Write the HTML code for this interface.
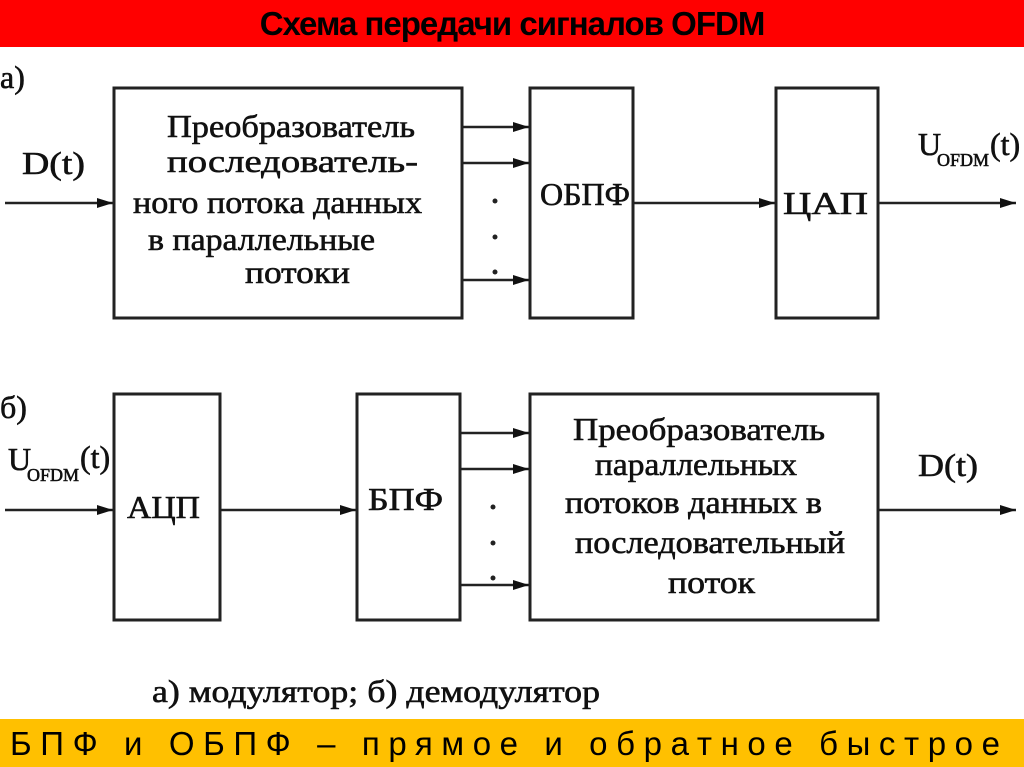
<!DOCTYPE html>
<html><head><meta charset="utf-8"><style>
body{margin:0;width:1024px;height:767px;overflow:hidden;background:#fff;position:relative}
.top{position:absolute;left:0;top:0;width:1024px;height:47px;background:#ff0000;text-align:center;font:bold 33px/47px "Liberation Sans",sans-serif;color:#000;letter-spacing:-1px}
.bot{position:absolute;left:0;top:719px;width:1024px;height:48px;background:#ffc000}
svg{position:absolute;left:0;top:0}
text{font-family:"Liberation Serif",serif;fill:#111;stroke:#111;stroke-width:0.6}
</style></head><body>
<div class="top">Схема передачи сигналов OFDM</div>
<div class="bot"></div>
<svg width="1024" height="767">
<defs><marker id="a" markerWidth="16" markerHeight="10" refX="16" refY="5" orient="auto" markerUnits="userSpaceOnUse"><path d="M0,0L16,5L0,10z" fill="#111"/></marker></defs>
<g stroke="#222" stroke-width="3" fill="none">
<rect x="114" y="88" width="348" height="230"/>
<rect x="530" y="88" width="103" height="230"/>
<rect x="776" y="88" width="102" height="230"/>
<rect x="114" y="394" width="106" height="226"/>
<rect x="357" y="394" width="103" height="226"/>
<rect x="530" y="394" width="348" height="226"/>
</g>
<g stroke="#222" stroke-width="2.5" marker-end="url(#a)">
<line x1="5" y1="203" x2="113" y2="203"/>
<line x1="462" y1="127" x2="529" y2="127"/>
<line x1="462" y1="163" x2="529" y2="163"/>
<line x1="462" y1="280" x2="529" y2="280"/>
<line x1="633" y1="203" x2="775" y2="203"/>
<line x1="878" y1="203" x2="1016" y2="203"/>
<line x1="5" y1="510" x2="113" y2="510"/>
<line x1="220" y1="510" x2="356" y2="510"/>
<line x1="460" y1="433" x2="529" y2="433"/>
<line x1="460" y1="469" x2="529" y2="469"/>
<line x1="460" y1="585" x2="529" y2="585"/>
<line x1="878" y1="510" x2="1016" y2="510"/>
</g>
<g fill="#222"><circle cx="495" cy="201" r="2.5"/><circle cx="495" cy="237" r="2.5"/><circle cx="495" cy="272" r="2.5"/>
<circle cx="493" cy="507" r="2.5"/><circle cx="493" cy="543" r="2.5"/><circle cx="493" cy="578" r="2.5"/></g>
<g font-size="32">
<text x="0" y="88">а)</text>
<text x="0" y="418">б)</text>
<text x="22" y="174" textLength="63" lengthAdjust="spacingAndGlyphs">D(t)</text>
<text x="167" y="137" textLength="248" lengthAdjust="spacingAndGlyphs">Преобразователь</text>
<text x="167" y="172" textLength="251" lengthAdjust="spacingAndGlyphs">последователь-</text>
<text x="133" y="213" textLength="289" lengthAdjust="spacingAndGlyphs">ного потока данных</text>
<text x="148" y="250" textLength="227" lengthAdjust="spacingAndGlyphs">в параллельные</text>
<text x="245" y="283" textLength="105" lengthAdjust="spacingAndGlyphs">потоки</text>
<text x="540" y="205" textLength="90" lengthAdjust="spacingAndGlyphs">ОБПФ</text>
<text x="783" y="214" textLength="85" lengthAdjust="spacingAndGlyphs">ЦАП</text>
<text x="918" y="155">U</text><text x="937" y="166" font-size="18">OFDM</text><text x="990" y="155">(t)</text>
<text x="8" y="470">U</text><text x="27" y="481" font-size="18">OFDM</text><text x="80" y="468">(t)</text>
<text x="127" y="518" textLength="73" lengthAdjust="spacingAndGlyphs">АЦП</text>
<text x="368" y="510" textLength="75" lengthAdjust="spacingAndGlyphs">БПФ</text>
<text x="573" y="440" textLength="252" lengthAdjust="spacingAndGlyphs">Преобразователь</text>
<text x="595" y="475" textLength="202" lengthAdjust="spacingAndGlyphs">параллельных</text>
<text x="565" y="513" textLength="257" lengthAdjust="spacingAndGlyphs">потоков данных в</text>
<text x="575" y="553" textLength="270" lengthAdjust="spacingAndGlyphs">последовательный</text>
<text x="668" y="593" textLength="87" lengthAdjust="spacingAndGlyphs">поток</text>
<text x="918" y="476" textLength="60" lengthAdjust="spacingAndGlyphs">D(t)</text>
<text x="152" y="702" textLength="448" lengthAdjust="spacingAndGlyphs">а) модулятор;  б) демодулятор</text>
</g>
<text x="10" y="755" font-size="33" textLength="990" lengthAdjust="spacing" style="font-family:'Liberation Sans',sans-serif;stroke:none;fill:#000">БПФ и ОБПФ – прямое и обратное быстрое</text>
</svg>
</body></html>
